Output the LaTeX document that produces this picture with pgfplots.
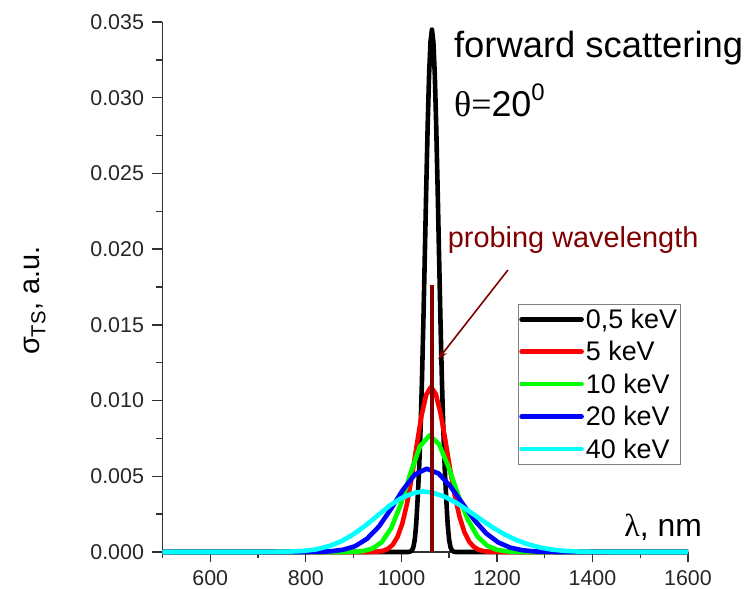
\documentclass[border=0pt]{standalone}
\usepackage{fontspec}
\setmainfont{Liberation Sans}
\newfontfamily\serif{Liberation Serif}
\usepackage{pgfplots}
\pgfplotsset{compat=1.18}
\usetikzlibrary{arrows.meta}
\definecolor{probe}{RGB}{128,0,0}
\definecolor{vgreen}{RGB}{0,255,0}
\definecolor{vcyan}{RGB}{0,255,255}
\definecolor{axisgray}{RGB}{50,50,50}

\begin{document}
\begin{tikzpicture}
\useasboundingbox (-162.5bp,-37bp) rectangle (590.5bp,552bp);
\begin{axis}[
  at={(0,0)}, anchor=south west,
  scale only axis, width=525.5bp, height=530bp,
  xmin=500, xmax=1600, ymin=0, ymax=0.035,
  axis x line*=bottom, axis y line*=left,
  x axis line style={-}, y axis line style={-},
  axis line style={axisgray, line width=1.4bp},
  xtick={600,800,...,1600},
  minor xtick={500,700,...,1500},
  ytick={0,0.005,...,0.0351},
  minor ytick={0.0025,0.0075,...,0.033},
  tick align=outside,
  major tick length=10bp, minor tick length=6bp,
  every tick/.style={axisgray, line width=1.3bp},
  scaled y ticks=false,
  yticklabel style={/pgf/number format/fixed, /pgf/number format/fixed zerofill,
    /pgf/number format/precision=3, xshift=-5bp},
  xticklabel style={/pgf/number format/set thousands separator={}, yshift=-5bp},
  /pgf/number format/assume math mode=true,
  ticklabel style={font=\fontsize{21.5}{24}\selectfont, text=black!85},
  clip=false,
  ylabel={σ\textsubscript{TS}, a.u.},
  ylabel style={at={(axis description cs:-0.243,0.474)}, anchor=center, font=\fontsize{29}{32}\selectfont},
  legend style={at={(axis description cs:0.6765,0.468)}, anchor=north west,
    draw=gray, line width=0.6bp, inner xsep=1bp, inner ysep=2.5bp, row sep=7.5bp,
    font=\fontsize{27}{31}\selectfont, cells={anchor=west}},
  legend image code/.code={\draw[#1, line cap=round] (0bp,0bp) -- (60bp,0bp);},
  every axis plot/.append style={line width=4.6bp, line join=round},
]
% 0,5 keV
\addplot[black] coordinates {
(500,0) (1014,0) (1018,0.00002) (1022,0.0001) (1025,0.0003) (1028,0.0008)
(1031,0.0018) (1034,0.00347) (1037,0.00537) (1040,0.00794) (1043,0.0112)
(1046,0.01509) (1049,0.01944) (1052,0.0239) (1055,0.02806) (1058,0.0315)
(1061,0.0337) (1064,0.0345) (1067,0.0337) (1070,0.0315) (1073,0.02806)
(1076,0.0239) (1079,0.01944) (1082,0.01509) (1085,0.0112) (1088,0.00794)
(1091,0.00537) (1094,0.00347) (1097,0.0018) (1100,0.0008) (1103,0.0003)
(1106,0.0001) (1110,0.00002) (1114,0) (1600,0)};
\addlegendentry{0,5 keV}
% 5 keV
\addplot[red] coordinates {
(500,0) (930,0) (942,0.00001) (952,0.00003) (962,0.00008) (972,0.00021)
(982,0.00048) (992,0.001) (1002,0.00188) (1012,0.00322) (1022,0.00499)
(1032,0.00702) (1042,0.00897) (1052,0.01038) (1062,0.0109) (1072,0.01044)
(1082,0.00917) (1092,0.00739) (1102,0.00546) (1112,0.0037) (1122,0.0023)
(1132,0.00131) (1142,0.00068) (1152,0.00033) (1162,0.00014) (1172,0.00006)
(1182,0.00002) (1192,0.00001) (1210,0) (1600,0)};
\addlegendentry{5 keV}
% 10 keV
\addplot[vgreen] coordinates {
(500,0) (880,0) (899,0.00001) (919,0.00006) (939,0.00022) (959,0.00065)
(979,0.00159) (999,0.00317) (1019,0.00519) (1039,0.00698) (1059,0.0077)
(1079,0.00711) (1099,0.00559) (1119,0.00375) (1139,0.00214) (1159,0.00104)
(1179,0.00043) (1199,0.00015) (1219,0.00005) (1239,0.00001) (1260,0) (1600,0)};
\addlegendentry{10 keV}
% 20 keV
\addplot[blue] coordinates {
(500,0) (800,0) (828,0.00001) (853,0.00005) (878,0.00015) (903,0.00038)
(928,0.00087) (953,0.00168) (978,0.00283) (1003,0.00409) (1028,0.00511)
(1053,0.0055) (1078,0.00518) (1103,0.00432) (1128,0.0032) (1153,0.0021)
(1178,0.00122) (1203,0.00063) (1228,0.00029) (1253,0.00012) (1278,0.00004)
(1303,0.00001) (1330,0) (1600,0)};
\addlegendentry{20 keV}
% 40 keV
\addplot[vcyan] coordinates {
(500,0) (700,0) (760,0.00002) (790,0.00006) (820,0.00016) (850,0.0004)
(875,0.00072) (900,0.00118) (925,0.00175) (950,0.0024) (975,0.00305)
(1000,0.00356) (1025,0.00389) (1045,0.004) (1065,0.00392) (1090,0.00366)
(1115,0.00325) (1140,0.00273) (1165,0.00218) (1190,0.00165) (1215,0.00118)
(1240,0.0008) (1265,0.00051) (1290,0.0003) (1315,0.00016) (1340,0.00008)
(1370,0.00003) (1400,0.00001) (1450,0) (1600,0)};
\addlegendentry{40 keV}
% probing wavelength
\addplot[probe, line width=4.4bp, forget plot] coordinates {(1064,0) (1064,0.0176)};
\draw[probe, line width=1.6bp, -{Stealth[length=10bp,width=7bp]}]
  (axis cs:1223,0.01862) -- (axis cs:1077,0.01273);
\node[anchor=west, text=probe, font=\fontsize{29}{32}\selectfont, inner sep=0pt]
  at (axis cs:1097,0.0206) {probing wavelength};
\node[anchor=west, font=\fontsize{36.5}{40}\selectfont, inner sep=0pt]
  at (axis cs:1110,0.0333) {forward scattering};
\node[anchor=west, font=\fontsize{36}{40}\selectfont, inner sep=0pt]
  at (axis cs:1110,0.0298) {{\serif θ=}20\raisebox{0.45em}{\fontsize{24}{26}\selectfont 0}};
\node[anchor=center, font=\fontsize{32}{36}\selectfont, inner sep=0pt]
  at (axis cs:1548,0.00165) {{\serif λ}, nm};
\end{axis}
\end{tikzpicture}
\end{document}
